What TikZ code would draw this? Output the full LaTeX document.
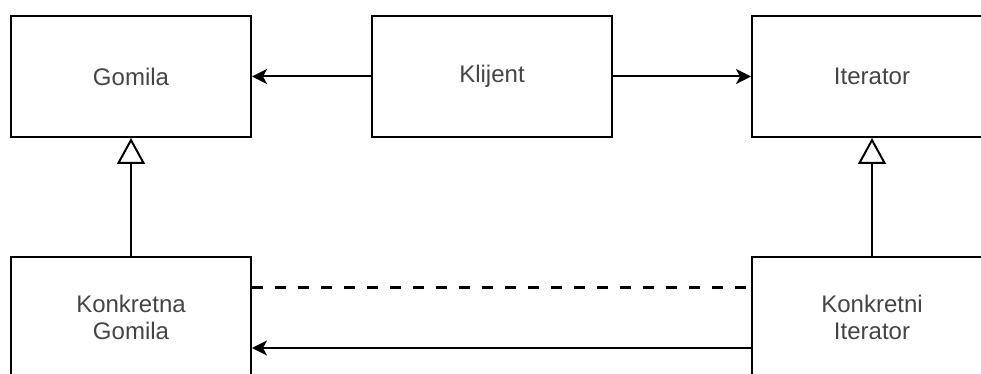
\documentclass[tikz,border=0pt]{standalone}
\usepackage{fontspec}
\setmainfont{Liberation Sans}
\usetikzlibrary{arrows.meta}
\definecolor{textgray}{HTML}{444444}
\begin{document}
\begin{tikzpicture}[x=1pt, y=1pt,
        box/.style={draw, line width=2pt, minimum width=240pt, minimum height=121pt, inner sep=0pt,
            align=center, text=textgray, font=\fontsize{24}{27}\selectfont},
        assoc/.style={line width=2pt, -{Stealth[length=15pt, width=15pt, inset=4pt]}},
        inherit/.style={line width=2pt, -{Triangle[open, length=26pt, width=28pt, fill=white]}},
        depend/.style={line width=3pt, dash pattern=on 11pt off 12pt}]
        \useasboundingbox (0, 0) rectangle (981, -374);
        \node[box] (G) at (131, -76.5) {Gomila};
        \node[box] (K) at (492, -76.5) {Klijent};
        \node[box] (I) at (872, -76.5) {Iterator};
        \node[box] (KG) at (131, -317.5) {Konkretna\\Gomila};
        \node[box] (KI) at (872, -317.5) {Konkretni\\Iterator};

        \draw[assoc] (K) -- (G);
        \draw[assoc] (K) -- (I);
        \draw[inherit] (KG) -- (G);
        \draw[inherit] (KI) -- (I);
        \draw[depend] ([yshift=30.5pt]KG.east) -- ([yshift=30.5pt]KI.west);
        \draw[assoc] ([yshift=-30.5pt]KI.west) -- ([yshift=-30.5pt]KG.east);
    \end{tikzpicture}
\end{document}
